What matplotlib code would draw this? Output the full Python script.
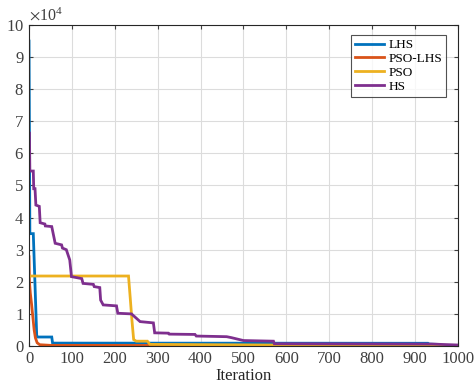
import matplotlib
matplotlib.use("Agg")
import matplotlib.pyplot as plt
from matplotlib.ticker import ScalarFormatter
import numpy as np

# Data (iteration, value in units of 1e4)
lhs_x = [0, 2, 10, 18, 20, 53, 55, 930, 932, 955, 958, 1000]
lhs_y = [9.5, 3.5, 3.5, 0.3, 0.28, 0.28, 0.09, 0.085, 0.06, 0.05, 0.02, 0.02]

psolhs_x = [0, 1, 3, 6, 9, 12, 15, 19, 25, 50, 1000]
psolhs_y = [2.78, 2.0, 1.65, 1.3, 0.9, 0.5, 0.25, 0.1, 0.04, 0.02, 0.01]

pso_x = [0, 232, 236, 240, 244, 250, 276, 282, 570, 1000]
pso_y = [2.18, 2.18, 1.5, 0.8, 0.2, 0.15, 0.15, 0.05, 0.03, 0.02]

hs_x = [0, 1, 2, 10, 11, 14, 16, 24, 26, 37, 38, 53, 61, 76, 78, 87, 95, 99, 123, 126,
        150, 152, 165, 167, 173, 204, 207, 239, 259, 290, 293, 325, 327, 387, 390, 461,
        472, 500, 570, 572, 940, 1000]
hs_y = [6.63, 6.63, 5.45, 5.45, 4.9, 4.9, 4.39, 4.35, 3.84, 3.8, 3.74, 3.72, 3.2, 3.15,
        3.05, 3.0, 2.68, 2.16, 2.1, 1.95, 1.92, 1.85, 1.82, 1.43, 1.28, 1.25, 1.02, 1.0,
        0.76, 0.72, 0.41, 0.4, 0.37, 0.36, 0.31, 0.29, 0.26, 0.17, 0.15, 0.07, 0.06, 0.03]

labels = ["LHS", "PSO-LHS", "PSO", "HS"]
colors = ["#0072BD", "#D95319", "#EDB120", "#7E2F8E"]
scale = 1e4

plt.rcParams['font.family'] = ['Liberation Serif', 'DejaVu Serif']
plt.rcParams['mathtext.fontset'] = 'stix'

fig = plt.figure(figsize=(4.74, 3.85), dpi=100)
ax = fig.add_axes([0.0612, 0.1013, 0.9048, 0.8338])

series = [(lhs_x, lhs_y), (psolhs_x, psolhs_y), (pso_x, pso_y), (hs_x, hs_y)]
for (xs, ys), lab, c in zip(series, labels, colors):
    ax.plot(xs, np.array(ys) * scale, color=c, lw=2.0, label=lab, solid_joinstyle='miter')

ax.set_xlim(0, 1000)
ax.set_ylim(0, 10e4)
ax.set_xticks(np.arange(0, 1001, 100))
ax.set_yticks(np.arange(0, 10.1, 1) * scale)
fmt = ScalarFormatter(useMathText=True)
fmt.set_powerlimits((4, 4))
ax.yaxis.set_major_formatter(fmt)
ax.yaxis.get_offset_text().set_fontsize(11.5)
ax.yaxis.get_offset_text().set_color('#404040')

ax.grid(True, color='#dcdcdc', lw=0.8)
ax.set_axisbelow(True)
ax.tick_params(direction='in', top=True, right=True, labelsize=12,
               colors='#404040', length=3, width=0.8)
for s in ax.spines.values():
    s.set_color('#262626')
    s.set_linewidth(0.8)

ax.set_xlabel("Iteration", fontsize=12, color='#262626', labelpad=1)

leg = ax.legend(loc='upper right', bbox_to_anchor=(0.972, 0.969), borderaxespad=0,
                fontsize=9.5, frameon=True, fancybox=False, edgecolor='#262626',
                handlelength=2.2, handletextpad=0.3, labelspacing=0.12,
                borderpad=0.3)
leg.get_frame().set_linewidth(0.8)

fig.savefig("out.png", dpi=100)
